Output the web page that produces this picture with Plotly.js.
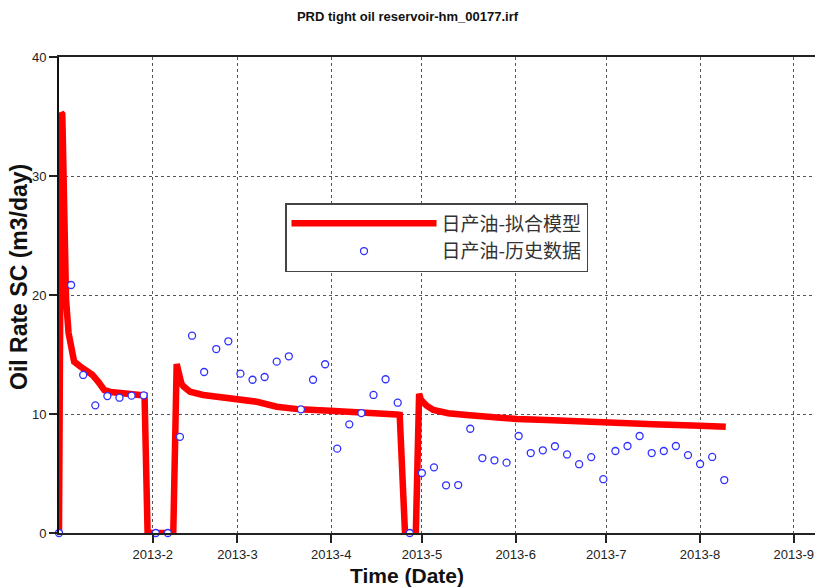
<!DOCTYPE html>
<html>
<head>
<meta charset="utf-8">
<script src="https://cdn.plot.ly/plotly-3.0.1.min.js"></script>
<style>html,body{margin:0;padding:0;background:#fff;}#chart{width:815px;height:587px;}</style>
</head>
<body>
<div id="chart"></div>
<script>
// Model (history-match) curve
const modelDates = [
  '2013-01-01 00:00','2013-01-01 18:00','2013-01-02 02:00','2013-01-02 06:00','2013-01-02 12:00',
  '2013-01-02 20:00','2013-01-03 08:00','2013-01-04 04:00','2013-01-05 00:00','2013-01-06 00:00',
  '2013-01-08 00:00','2013-01-10 00:00','2013-01-12 00:00','2013-01-14 00:00','2013-01-16 00:00',
  '2013-01-18 00:00','2013-01-21 00:00','2013-01-25 00:00','2013-01-29 07:00','2013-01-30 07:00',
  '2013-02-07 19:00','2013-02-08 22:00','2013-02-09 12:00','2013-02-10 12:00','2013-02-11 06:00',
  '2013-02-13 08:00','2013-02-17 16:00','2013-02-28 18:00','2013-03-07 10:00','2013-03-14 00:00',
  '2013-03-21 16:00','2013-03-31 14:00','2013-04-10 12:00','2013-04-22 16:00','2013-04-23 16:00',
  '2013-04-25 10:00','2013-04-29 00:00','2013-04-30 02:00','2013-04-30 16:00','2013-05-02 14:00',
  '2013-05-04 19:00','2013-05-07 00:00','2013-05-09 16:00','2013-05-15 18:00','2013-05-23 12:00',
  '2013-06-01 08:00','2013-06-11 04:00','2013-06-15 14:00','2013-06-26 16:00','2013-07-01 00:00',
  '2013-07-16 12:00','2013-08-01 00:00','2013-08-09 12:00'
];
const modelRate = [
  0, 35.3, 35.2, 33.3, 28.7,
  23.0, 19.6, 16.8, 15.4, 14.4,
  14.0, 13.6, 13.3, 12.7, 12.0,
  11.85, 11.75, 11.65, 11.55, 0,
  0, 14.2, 13.3, 12.55, 12.3,
  11.87, 11.6, 11.32, 11.03, 10.61,
  10.39, 10.28, 10.19, 9.95, 9.92,
  0, 0, 11.7, 11.2, 10.7,
  10.34, 10.22, 10.06, 9.92, 9.72,
  9.58, 9.50, 9.44, 9.30, 9.27,
  9.13, 9.02, 8.93
];

// Historical data points
const histDates = [
  '2013-01-01','2013-01-05','2013-01-09','2013-01-13','2013-01-17','2013-01-21','2013-01-25','2013-01-29',
  '2013-02-02','2013-02-06','2013-02-10','2013-02-14','2013-02-18','2013-02-22','2013-02-26',
  '2013-03-02','2013-03-06','2013-03-10','2013-03-14','2013-03-18','2013-03-22','2013-03-26','2013-03-30',
  '2013-04-03','2013-04-07','2013-04-11','2013-04-15','2013-04-19','2013-04-23','2013-04-27',
  '2013-05-01','2013-05-05','2013-05-09','2013-05-13','2013-05-17','2013-05-21','2013-05-25','2013-05-29',
  '2013-06-02','2013-06-06','2013-06-10','2013-06-14','2013-06-18','2013-06-22','2013-06-26','2013-06-30',
  '2013-07-04','2013-07-08','2013-07-12','2013-07-16','2013-07-20','2013-07-24','2013-07-28',
  '2013-08-01','2013-08-05','2013-08-09'
];
const histRate = [
  0, 20.84, 13.28, 10.73, 11.51, 11.37, 11.54, 11.57,
  0, 0, 8.08, 16.58, 13.53, 15.46, 16.11,
  13.39, 12.88, 13.11, 14.40, 14.85, 10.39, 12.88, 14.18,
  7.09, 9.13, 10.08, 11.60, 12.92, 10.95, 0,
  5.04, 5.52, 4.01, 4.03, 8.76, 6.30, 6.11, 5.91,
  8.15, 6.72, 6.95, 7.29, 6.60, 5.78, 6.38, 4.52,
  6.89, 7.31, 8.15, 6.72, 6.89, 7.31, 6.55,
  5.80, 6.39, 4.45
];

// Axis ticks
const monthTicks = ['2013-02-01','2013-03-01','2013-04-01','2013-05-01','2013-06-01','2013-07-01','2013-08-01','2013-09-01'];
const monthLabels = ['2013-2','2013-3','2013-4','2013-5','2013-6','2013-7','2013-8','2013-9'];
const yTicks = [0, 10, 20, 30, 40];

const seriesNames = ['日产油-拟合模型', '日产油-历史数据'];
const chartTitle = 'PRD tight oil reservoir-hm_00177.irf';
const xTitle = 'Time (Date)';
const yTitle = 'Oil Rate SC (m3/day)';

const FONT = 'Arial, "Liberation Sans", sans-serif';

const traces = [
  {
    x: modelDates, y: modelRate, name: seriesNames[0],
    type: 'scatter', mode: 'lines',
    line: {color: '#ff0000', width: 6.5},
    hoverinfo: 'skip'
  },
  {
    x: histDates, y: histRate, name: seriesNames[1],
    type: 'scatter', mode: 'markers',
    marker: {symbol: 'circle', size: 7, color: '#ffffff', line: {color: '#3030ff', width: 1.3}},
    cliponaxis: false
  }
];

const layout = {
  width: 815, height: 587,
  margin: {l: 59, r: 0, t: 57, b: 54, pad: 0},
  paper_bgcolor: '#ffffff', plot_bgcolor: '#ffffff',
  font: {family: FONT, color: '#222', size: 13},
  showlegend: true,
  title: {
    text: '<b>' + chartTitle + '</b>',
    font: {family: FONT, size: 13, color: '#111'},
    xref: 'container', x: 0.5, xanchor: 'center',
    yref: 'container', y: 1 - 16/587, yanchor: 'middle'
  },
  xaxis: {
    type: 'date',
    range: ['2013-01-01', '2013-09-08'],
    tickmode: 'array', tickvals: monthTicks, ticktext: monthLabels,
    ticks: 'outside', ticklen: 8, tickwidth: 2, tickcolor: '#222',
    tickfont: {family: FONT, size: 13, color: '#222'},
    showline: true, linecolor: '#222', linewidth: 2, mirror: true,
    showgrid: true, gridcolor: '#555', gridwidth: 1, griddash: 'dot',
    zeroline: false, fixedrange: true
  },
  yaxis: {
    range: [0, 40],
    tickmode: 'array', tickvals: yTicks,
    ticks: 'outside', ticklen: 8, tickwidth: 2, tickcolor: '#222',
    tickfont: {family: FONT, size: 13, color: '#222'},
    showline: true, linecolor: '#111', linewidth: 2,
    showgrid: true, gridcolor: '#555', gridwidth: 1, griddash: 'dot',
    zeroline: false, fixedrange: true
  },
  legend: {
    x: (285 - 59) / 756, y: (533 - 203) / 476, xanchor: 'left', yanchor: 'top',
    bgcolor: '#ffffff', bordercolor: '#444', borderwidth: 1.5,
    font: {family: '"Noto Sans CJK SC", sans-serif', size: 19, color: '#333'},
    itemwidth: 145, tracegroupgap: 0
  },
  annotations: [
    {
      text: '<b>' + xTitle + '</b>', showarrow: false,
      xref: 'paper', yref: 'paper', x: (407 - 59) / 756, y: 0, yshift: -42,
      xanchor: 'center', yanchor: 'middle',
      font: {family: FONT, size: 21, color: '#111'}
    },
    {
      text: '<b>' + yTitle + '</b>', showarrow: false, textangle: -90,
      xref: 'paper', yref: 'paper', x: (19 - 59) / 756, y: (533 - 277) / 476,
      xanchor: 'center', yanchor: 'middle',
      font: {family: FONT, size: 23, color: '#111'}
    }
  ]
};

Plotly.newPlot('chart', traces, layout, {displayModeBar: false, staticPlot: true});
</script>
</body>
</html>
